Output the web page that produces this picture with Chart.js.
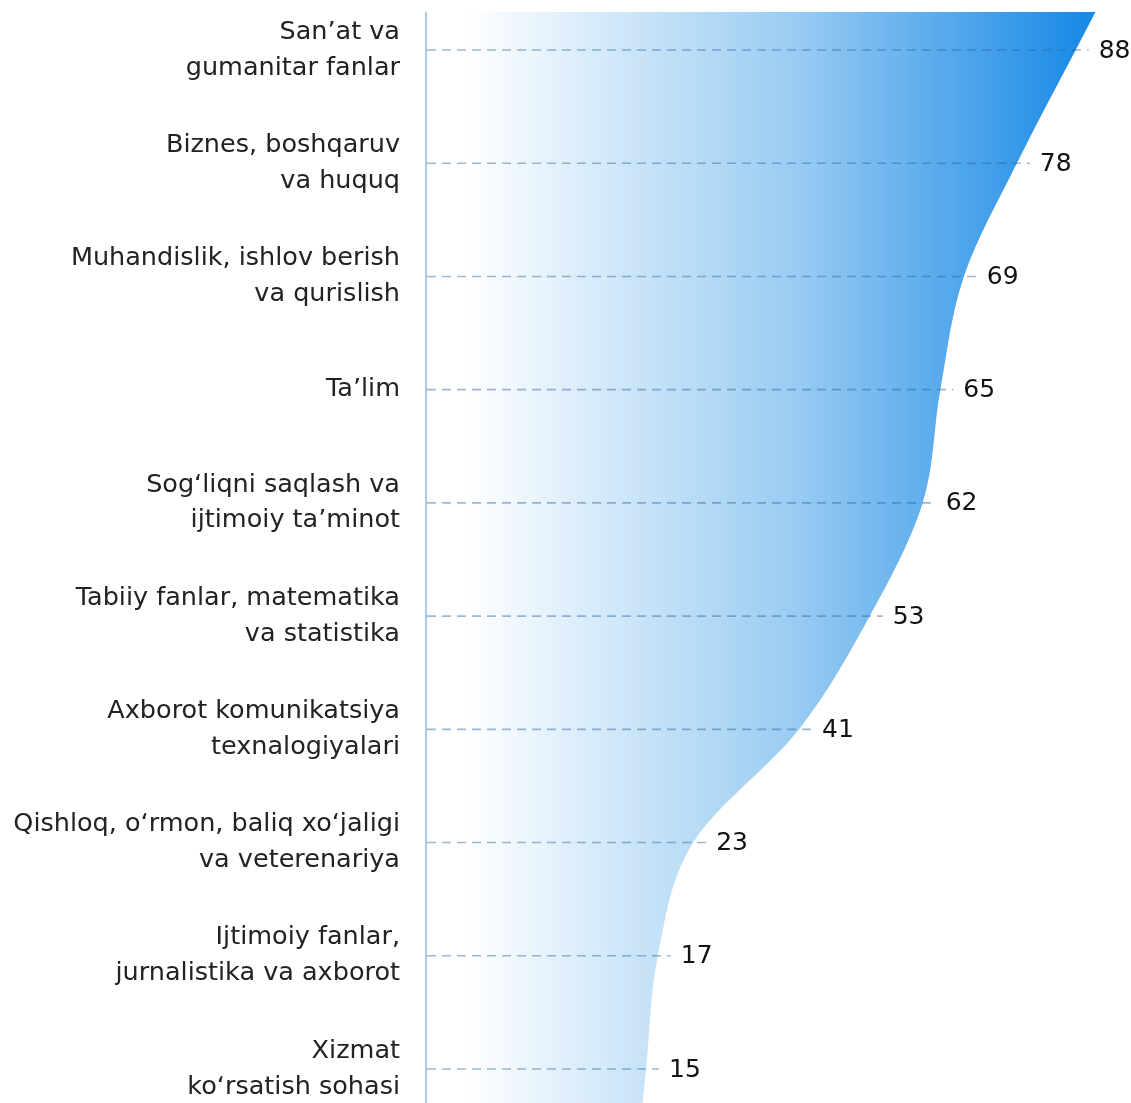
<!DOCTYPE html>
<html><head><meta charset="utf-8">
<script src="https://cdn.jsdelivr.net/npm/chart.js@4"></script>
<style>html,body{margin:0;padding:0;background:#fff}#wrap{width:1131px;height:1103px;position:relative}</style>
</head><body><div id="wrap"><canvas id="c"></canvas></div>
<script>
const categories = [
  ["San’at va", "gumanitar fanlar"],
  ["Biznes, boshqaruv", "va huquq"],
  ["Muhandislik, ishlov berish", "va qurislish"],
  "Ta’lim",
  ["Sog‘liqni saqlash va", "ijtimoiy ta’minot"],
  ["Tabiiy fanlar, matematika", "va statistika"],
  ["Axborot komunikatsiya", "texnalogiyalari"],
  ["Qishloq, o‘rmon, baliq xo‘jaligi", "va veterenariya"],
  ["Ijtimoiy fanlar,", "jurnalistika va axborot"],
  ["Xizmat", "ko‘rsatish sohasi"]
];
const values = [88, 78, 69, 65, 62, 53, 41, 23, 17, 15];
const valueLabels = values.map(String);

const FONT = '"DejaVu Sans"';
const X_MIN = -22.4, X_MAX = 97.4;

function makeGradient(ctx, a) {
  const g = ctx.createLinearGradient(a.left + 39, 0, a.right - 48, 0);
  g.addColorStop(0, '#ffffff');
  g.addColorStop(0.54, '#98cbf2');
  g.addColorStop(1, '#1a8ae6');
  return g;
}

const decor = {
  id: 'decor',
  beforeDatasetsDraw(chart) {
    const ctx = chart.ctx, a = chart.chartArea;
    const pts = chart.getDatasetMeta(0).data;
    const n = pts.length;
    const topEdge = a.top - 38, bottomEdge = chart.height;
    const ext = (p0, p1, yE) => p0.x + (p1.x - p0.x) / (p1.y - p0.y) * (yE - p0.y);
    ctx.save();
    ctx.fillStyle = makeGradient(ctx, a);
    const xt = ext(pts[0], pts[1], topEdge);
    ctx.beginPath();
    ctx.moveTo(a.left, topEdge);
    ctx.lineTo(xt, topEdge);
    ctx.lineTo(pts[0].x, pts[0].y);
    ctx.lineTo(a.left, pts[0].y);
    ctx.closePath();
    ctx.fill();
    const xb = ext(pts[n - 1], pts[n - 2], bottomEdge);
    ctx.beginPath();
    ctx.moveTo(a.left, pts[n - 1].y);
    ctx.lineTo(pts[n - 1].x, pts[n - 1].y);
    ctx.lineTo(xb, bottomEdge);
    ctx.lineTo(a.left, bottomEdge);
    ctx.closePath();
    ctx.fill();
    ctx.restore();
  },
  afterDatasetsDraw(chart) {
    const ctx = chart.ctx, a = chart.chartArea;
    const pts = chart.getDatasetMeta(0).data;
    ctx.save();
    // axis line
    ctx.strokeStyle = '#a9cbe9';
    ctx.lineWidth = 2;
    ctx.beginPath();
    ctx.moveTo(a.left, a.top - 38);
    ctx.lineTo(a.left, chart.height);
    ctx.stroke();
    // dashed guide lines
    ctx.strokeStyle = 'rgba(40,100,160,0.45)';
    ctx.lineWidth = 1.6;
    ctx.setLineDash([9, 6]);
    pts.forEach(p => {
      ctx.beginPath();
      ctx.moveTo(a.left + 1, p.y);
      ctx.lineTo(p.x + 13, p.y);
      ctx.stroke();
    });
    ctx.setLineDash([]);
    // value labels
    ctx.fillStyle = '#111111';
    ctx.font = '25px ' + FONT;
    ctx.textBaseline = 'middle';
    ctx.textAlign = 'left';
    pts.forEach((p, i) => ctx.fillText(valueLabels[i], p.x + 23, p.y + 1));
    ctx.restore();
  }
};

new Chart(document.getElementById('c'), {
  type: 'line',
  data: {
    labels: categories,
    datasets: [{
      data: values,
      fill: { value: X_MIN },
      backgroundColor: (c) => {
        const a = c.chart.chartArea;
        if (!a) return '#98cbf2';
        return makeGradient(c.chart.ctx, a);
      },
      borderColor: 'rgba(0,0,0,0)',
      borderWidth: 0,
      pointRadius: 0,
      pointHoverRadius: 0,
      cubicInterpolationMode: 'monotone'
    }]
  },
  options: {
    indexAxis: 'y',
    responsive: true,
    maintainAspectRatio: false,
    animation: false,
    layout: { padding: { top: 50, bottom: 34, left: 0, right: 0 } },
    plugins: { legend: { display: false }, tooltip: { enabled: false } },
    scales: {
      x: { type: 'linear', display: false, min: X_MIN, max: X_MAX },
      y: {
        type: 'category',
        offset: false,
        grid: { display: false, drawTicks: false },
        border: { display: false },
        ticks: { padding: 26, color: '#222222', autoSkip: false, font: { family: FONT, size: 25.5, lineHeight: 1.41 } },
        afterFit(s) { s.width = 426; s.paddingTop = 0; s.paddingBottom = 0; }
      }
    }
  },
  plugins: [decor]
});
</script>
</body></html>
